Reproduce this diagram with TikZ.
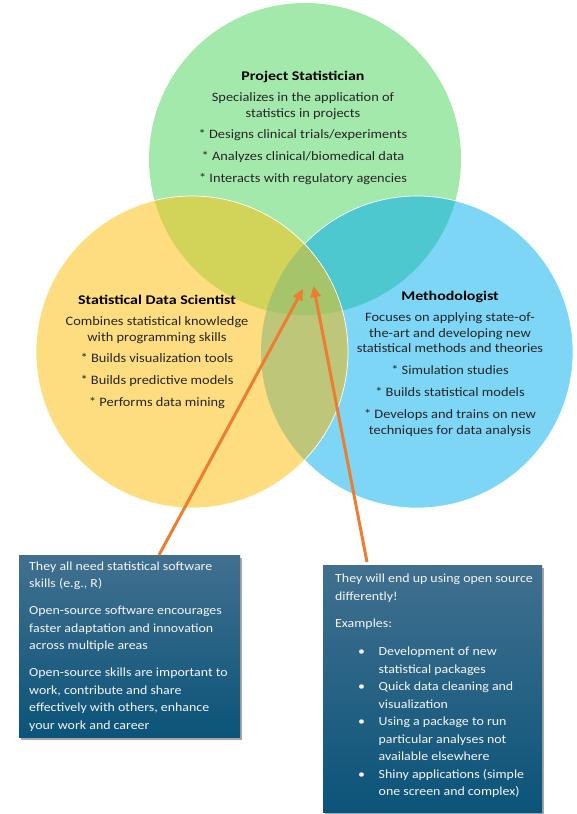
\documentclass[tikz,border=0pt]{standalone}
\usepackage{fontspec}
\setmainfont{Carlito}[FakeStretch=1.12]
\newfontfamily\headfont{Carlito}[FakeStretch=1.2]
\usetikzlibrary{arrows.meta,shadows,calc}
\definecolor{cG}{HTML}{A4E9AC}
\definecolor{cY}{HTML}{FDDD80}
\definecolor{cB}{HTML}{7DD6F6}
\definecolor{cYG}{HTML}{D2D45A}
\definecolor{cGB}{HTML}{4EC8CF}
\definecolor{cYB}{HTML}{BEC67A}
\definecolor{cYGB}{HTML}{A6C46A}
\definecolor{boxtop}{HTML}{41708F}
\definecolor{boxbot}{HTML}{0B5479}
\definecolor{cOr}{HTML}{ED7D31}
\newcommand{\bitem}[1]{\makebox[43.5pt][l]{\hspace*{23pt}\textbullet}#1}
\newcommand{\bcont}{\hspace*{43.5pt}}
\tikzset{
  head/.style={font=\headfont\bfseries\fontsize{13.3}{15}\selectfont, inner sep=0pt, anchor=base, text=black},
  circtext/.style={align=center, font=\fontsize{12.85}{15.7}\selectfont, inner sep=0pt, anchor=north, text=black!85},
  infobox/.style={top color=boxtop, bottom color=boxbot, inner sep=0pt, anchor=north west,
    drop shadow={shadow xshift=2pt, shadow yshift=-2.5pt, fill=black, opacity=0.35}},
  boxtext/.style={align=left, text=white!96!black, font=\fontsize{12.4}{17.5}\selectfont, inner sep=0pt, anchor=north west},
  callout/.style={draw=cOr, line width=3pt, -{Triangle[length=11pt,width=10pt]}},
  ring/.style={draw=white, line width=0.7pt}
}
\begin{document}
\begin{tikzpicture}[x=1pt,y=-1pt]
\useasboundingbox (0,0) rectangle (576,814);
% circles
\fill[cG] (305,159) circle[radius=156pt];
\fill[cB] (417,352) circle[radius=156pt];
\begin{scope}
  \clip (305,159) circle[radius=156pt];
  \fill[cGB] (417,352) circle[radius=156pt];
\end{scope}
\draw[ring] (417,352) circle[radius=156pt];
\fill[cY] (192,352) circle[radius=156pt];
\begin{scope}
  \clip (192,352) circle[radius=156pt];
  \fill[cYG] (305,159) circle[radius=156pt];
  \fill[cYB] (417,352) circle[radius=156pt];
  \clip (305,159) circle[radius=156pt];
  \fill[cYGB] (417,352) circle[radius=156pt];
\end{scope}
\draw[ring] (192,352) circle[radius=156pt];

% green text
\node[head] (gHead) at (303,80.5) {Project Statistician};
\node[circtext] (gBody) at (303,92.3) {Specializes in the application of\\statistics in projects\\[6pt]
* Designs clinical trials/experiments\\[6pt]
* Analyzes clinical/biomedical data\\[6pt]
* Interacts with regulatory agencies};

% yellow text
\node[head] (yHead) at (157,304.3) {Statistical Data Scientist};
\node[circtext] (yBody) at (157,316.3) {Combines statistical knowledge\\with programming skills\\[6pt]
* Builds visualization tools\\[6pt]
* Builds predictive models\\[6pt]
* Performs data mining};

% blue text
\node[head] (bHead) at (450,300) {Methodologist};
\node[circtext] (bBody) at (450,312.3) {Focuses on applying state-of-\\the-art and developing new\\statistical methods and theories\\[6.3pt]
* Simulation studies\\[6.3pt]
* Builds statistical models\\[6.3pt]
* Develops and trains on new\\techniques for data analysis};

% boxes
\node[infobox, minimum width=221pt, minimum height=182pt] (boxL) at (19,555) {};
\node[infobox, minimum width=219pt, minimum height=247pt] (boxR) at (323,565) {};

\node[boxtext] (tL) at (29,561.3) {They all need statistical software\\skills (e.g., R)\\[9.5pt]
Open-source software encourages\\faster adaptation and innovation\\across multiple areas\\[9.5pt]
Open-source skills are important to\\work, contribute and share\\effectively with others, enhance\\your work and career};

\node[boxtext] (tR) at (335,573.8) {They will end up using open source\\differently!\\[9.5pt]
Examples:\\[11pt]
\bitem{Development of new}\\\bcont statistical packages\\
\bitem{Quick data cleaning and}\\\bcont visualization\\
\bitem{Using a package to run}\\\bcont particular analyses not\\\bcont available elsewhere\\
\bitem{Shiny applications (simple}\\\bcont one screen and complex)};

% arrows
\coordinate (tipL) at (303,289);
\coordinate (tipR) at (313.5,286);
\draw[callout] ($(boxL.north west)+(140,0)$) -- (tipL);
\draw[callout] ($(boxR.north west)+(44,-3)$) -- (tipR);
\end{tikzpicture}
\end{document}
